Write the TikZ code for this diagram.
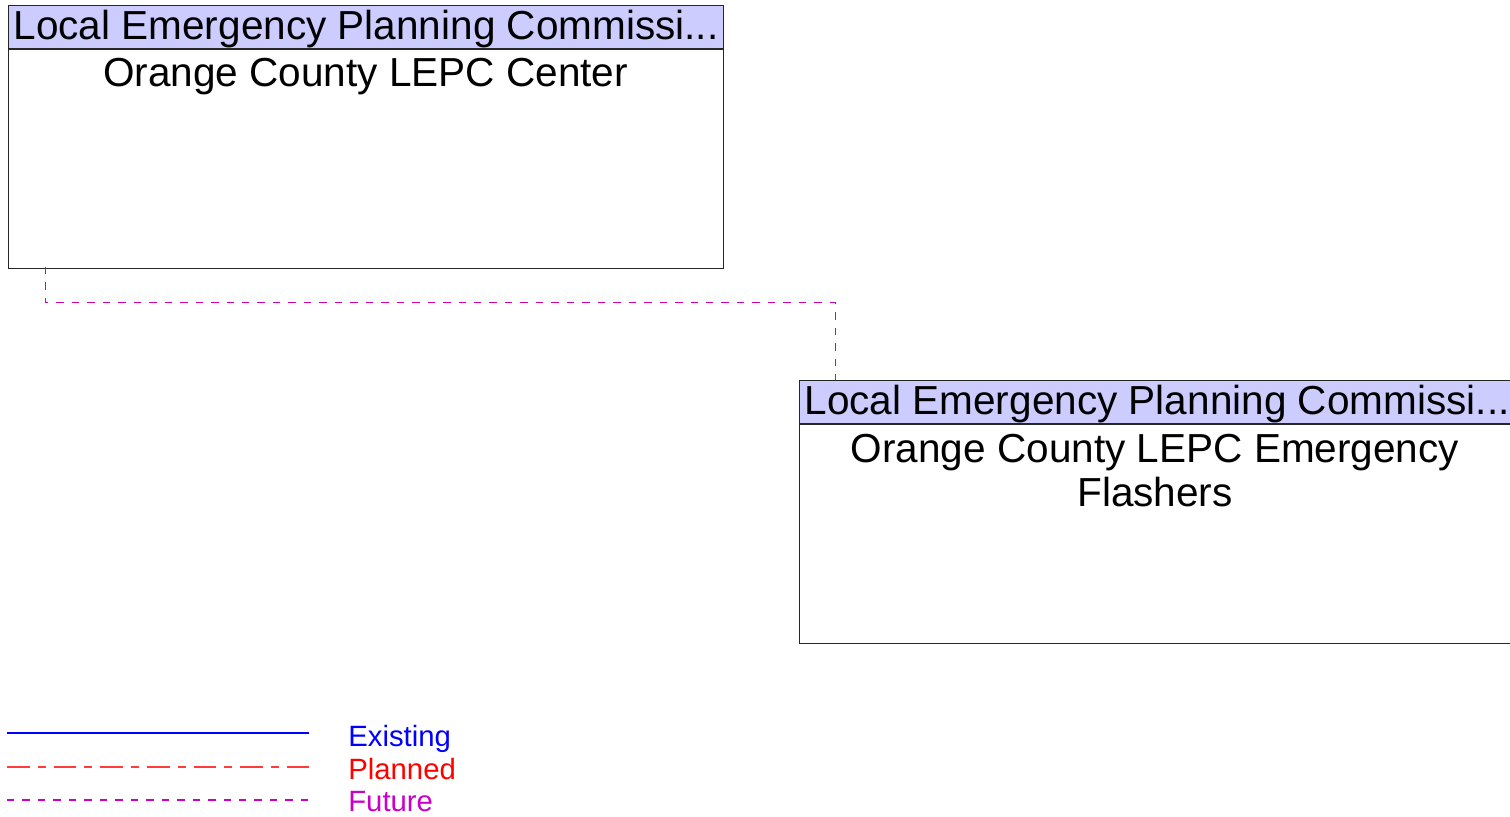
\documentclass[tikz,border=0pt]{standalone}
\usepackage{fontspec}
\setmainfont{Liberation Sans}
\usetikzlibrary{positioning}
\definecolor{hdrblue}{RGB}{204,204,255}
\definecolor{futmag}{RGB}{200,0,200}
\definecolor{planred}{RGB}{255,60,60}

\begin{document}
\begin{tikzpicture}[x=0.75pt, y=-0.75pt,
  hdr/.style={draw=black!85, fill=hdrblue, anchor=north west, minimum width=536.25pt, minimum height=32.25pt, inner sep=0pt, line width=0.9pt, text height=22pt, text depth=3pt, font=\fontsize{30.4}{33}\selectfont},
  body/.style={draw=black!85, anchor=north west, minimum width=536.25pt, minimum height=164.25pt, inner sep=0pt, line width=0.9pt},
  title/.style={anchor=base, align=center, inner sep=0pt, font=\fontsize{30.4}{33}\selectfont},
  flow/.style={color=futmag, line width=0.75pt, dash pattern=on 5.6pt off 6pt},
  legtxt/.style={anchor=base west, inner sep=0pt, font=\fontsize{22}{24}\selectfont}
]
\useasboundingbox (0,0) rectangle (1510,817);

% Orange County LEPC Center
\node[hdr] (hdr1) at (8,5) {Local Emergency Planning Commissi...};
\node[body] (body1) at (hdr1.south west) {};
\node[title] (name1) at (365.5,87) {Orange County LEPC Center};

% Orange County LEPC Emergency Flashers
\node[hdr] (hdr2) at (799,380) {Local Emergency Planning Commissi...};
\node[body] (body2) at (hdr2.south west) {};
\node[title] (name2) at (1155,506) {Orange County LEPC Emergency\\Flashers};

% future flow
\coordinate (from1) at (45,267);
\coordinate (to2) at (835,380);
\draw[flow] (from1) -- ++(0,35) -| (to2);

% legend
\coordinate (ex1) at (7,733);
\coordinate (pl1) at (7,767);
\coordinate (fu1) at (7,800);
\node[legtxt, text=blue] (existing) at (348,746) {Existing};
\node[legtxt, text=red] (planned) at (348,779) {Planned};
\node[legtxt, text=futmag] (future) at (348,811) {Future};
\draw[blue, line width=1.8pt] (ex1) -- ++(302,0);
\draw[planred, line width=1.1pt, dash pattern=on 17pt off 6pt on 6pt off 6pt] (pl1) -- ++(302,0);
\draw[futmag, line width=1.1pt, dash pattern=on 5.6pt off 6pt] (fu1) -- ++(302,0);
\end{tikzpicture}
\end{document}
